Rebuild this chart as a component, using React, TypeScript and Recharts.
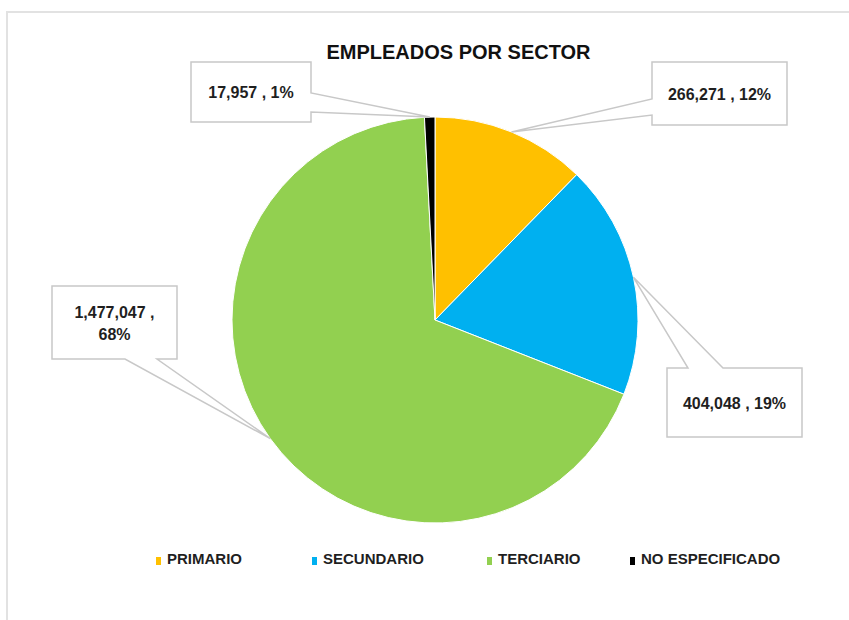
import { PieChart, Pie, Cell, Legend } from 'recharts';

const sectors = ['PRIMARIO', 'SECUNDARIO', 'TERCIARIO', 'NO ESPECIFICADO'];
const employees = [266271, 404048, 1477047, 17957];
const colors = ['#FFC000', '#00B0F0', '#92D050', '#000000'];

const rows = sectors.map((name, i) => ({ name, value: employees[i] }));

// callout boxes: rect + which side the pointer leaves from and its base span
const boxes = [
  { x0: 652, y0: 62, x1: 787, y1: 125, side: 'left', a: 99, b: 115 },
  { x0: 667, y0: 368, x1: 802, y1: 437, side: 'top', a: 688, b: 723 },
  { x0: 52, y0: 286, x1: 177, y1: 359, side: 'bottom', a: 125, b: 157 },
  { x0: 191, y0: 62, x1: 311, y1: 122, side: 'right', a: 93, b: 112 },
];

// legend item widths (excel spacing)
const legendWidths = [156, 175, 143, 160];

const RAD = Math.PI / 180;
const fmt = (n: number) => n.toLocaleString('en-US');

function calloutPath(bx: any, px: number, py: number) {
  const { x0, y0, x1, y1, side, a, b } = bx;
  const pts: number[][] = [];
  pts.push([x0, y0]);
  if (side === 'top') pts.push([a, y0], [px, py], [b, y0]);
  pts.push([x1, y0]);
  if (side === 'right') pts.push([x1, a], [px, py], [x1, b]);
  pts.push([x1, y1]);
  if (side === 'bottom') pts.push([b, y1], [px, py], [a, y1]);
  pts.push([x0, y1]);
  if (side === 'left') pts.push([x0, b], [px, py], [x0, a]);
  return 'M' + pts.map(p => p.join(',')).join(' L') + ' Z';
}

const renderLabel = (p: any) => {
  const { cx, cy, midAngle, outerRadius, index, value, percent } = p;
  const bx = boxes[index];
  const px = cx + outerRadius * Math.cos(-midAngle * RAD);
  const py = cy + outerRadius * Math.sin(-midAngle * RAD);
  const tx = (bx.x0 + bx.x1) / 2;
  const ty = (bx.y0 + bx.y1) / 2;
  const pct = Math.round(percent * 100) + '%';
  const twoLines = index === 2;
  return (
    <g key={'lbl' + index}>
      <path d={calloutPath(bx, px, py)} fill="#fff" stroke="#c8c8c8" strokeWidth={1.5} />
      {twoLines ? (
        <text x={tx} textAnchor="middle" fontFamily="Liberation Sans, Arial, sans-serif" fontWeight="bold" fontSize={16} fill="#1f1f1f">
          <tspan x={tx} y={ty - 5}>{fmt(value) + ' ,'}</tspan>
          <tspan x={tx} y={ty + 17}>{pct}</tspan>
        </text>
      ) : (
        <text x={tx} y={ty + 6} textAnchor="middle" fontFamily="Liberation Sans, Arial, sans-serif" fontWeight="bold" fontSize={16} fill="#1f1f1f">
          {fmt(value) + ' , ' + pct}
        </text>
      )}
    </g>
  );
};

const renderLegend = () => (
  <div style={{ display: 'flex', paddingLeft: 156, height: 15, lineHeight: '15px', alignItems: 'flex-end', fontFamily: 'Liberation Sans, Arial, sans-serif', fontWeight: 'bold', fontSize: 15, color: '#1f1f1f' }}>
    {sectors.map((s, i) => (
      <div key={s} style={{ display: 'flex', alignItems: 'flex-end', width: legendWidths[i], whiteSpace: 'nowrap' }}>
        <span style={{ display: 'inline-block', width: 5, height: 8, background: colors[i], marginRight: 6, marginBottom: 1 }} />
        <span>{s}</span>
      </div>
    ))}
  </div>
);

export default function App() {
  return (
    <div style={{ position: 'absolute', left: 0, top: 0, width: 849, height: 620, background: '#fff', overflow: 'hidden' }}>
      <div style={{ position: 'absolute', left: 6, top: 11, width: 900, height: 700, borderTop: '2px solid #e2e2e2', borderLeft: '2px solid #e2e2e2' }} />
      <div style={{ position: 'absolute', left: 0, top: 42, width: 917, textAlign: 'center', fontFamily: 'Liberation Sans, Arial, sans-serif', fontWeight: 'bold', fontSize: 20, lineHeight: '20px', color: '#111' }}>
        EMPLEADOS POR SECTOR
      </div>
      <div style={{ position: 'absolute', left: 0, top: 0 }}>
        <PieChart width={849} height={620} margin={{ top: 0, right: 0, bottom: 0, left: 0 }}>
          <Pie
            data={rows}
            dataKey="value"
            nameKey="name"
            cx={435}
            cy={320}
            outerRadius={203}
            startAngle={90}
            endAngle={-270}
            stroke="#fff"
            strokeWidth={1}
            label={renderLabel}
            labelLine={false}
            isAnimationActive={false}
          >
            {rows.map((r, i) => (
              <Cell key={r.name} fill={colors[i]} />
            ))}
          </Pie>
          <Legend
            verticalAlign="bottom"
            content={renderLegend}
            wrapperStyle={{ position: 'absolute', top: 551, bottom: 'auto', left: 0, width: 849 }}
          />
        </PieChart>
      </div>
    </div>
  );
}
